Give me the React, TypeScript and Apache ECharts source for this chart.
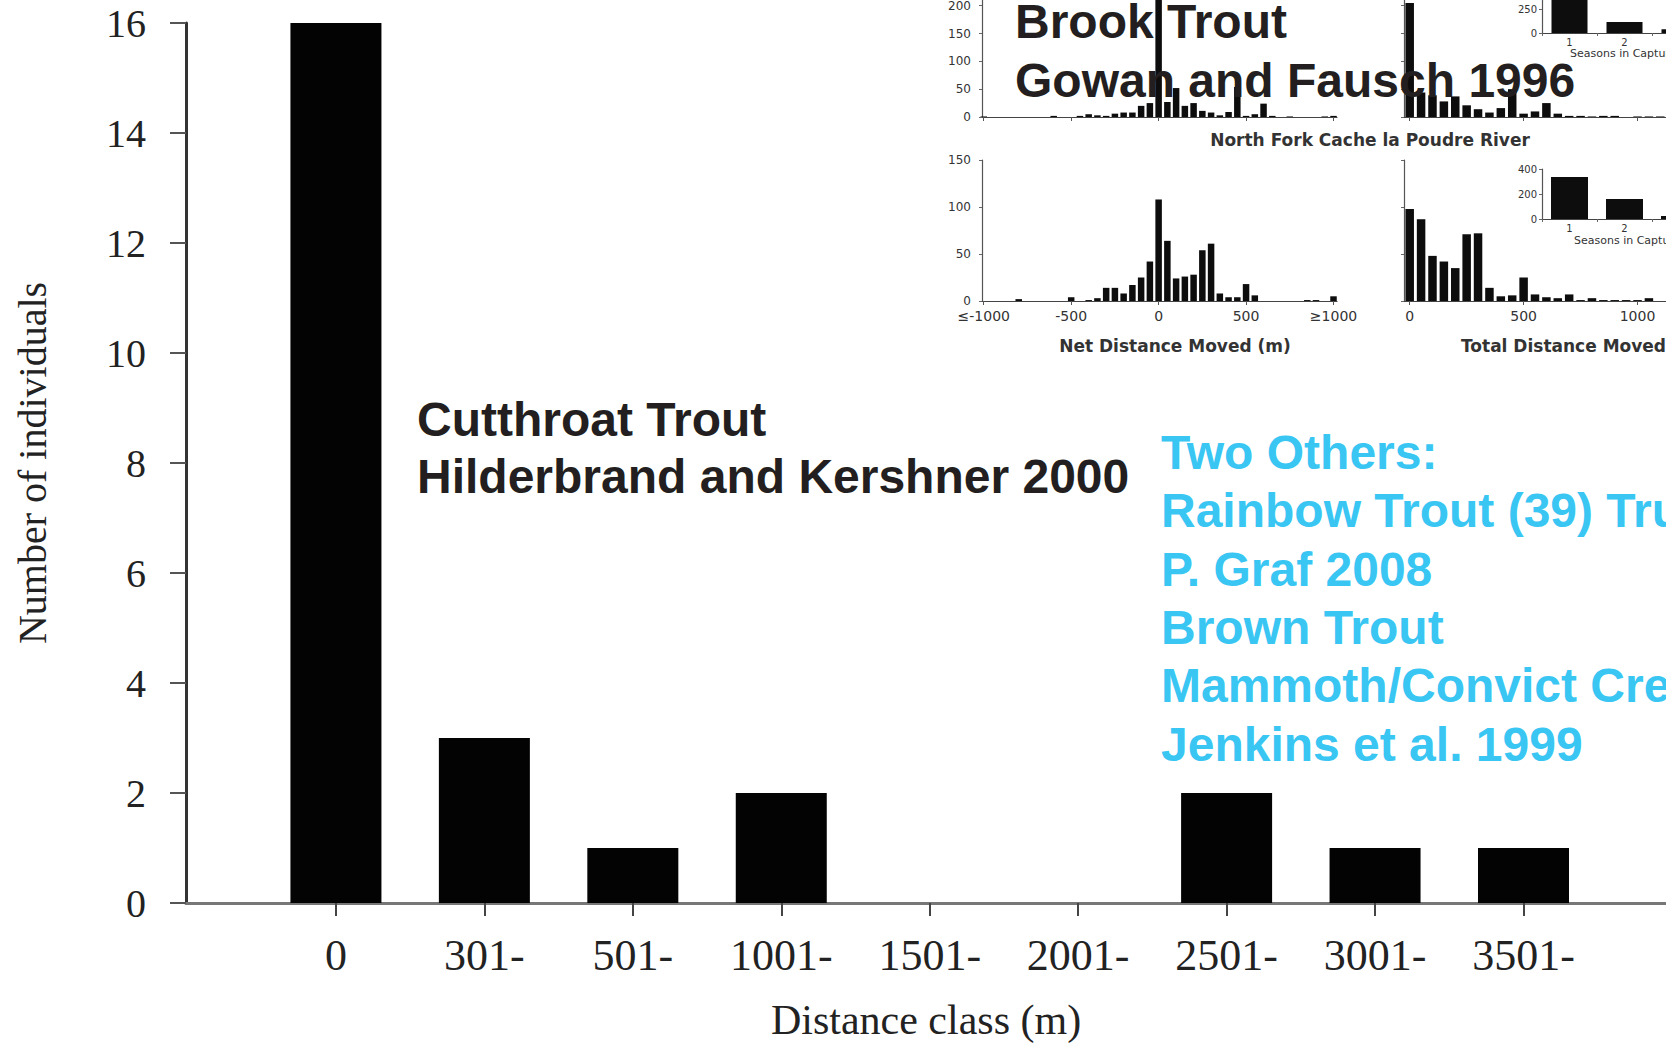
import React, { useEffect, useRef } from "react";
import * as echarts from "echarts";

// ---------- main chart data ----------
const distanceClasses = ["0", "301-", "501-", "1001-", "1501-", "2001-", "2501-", "3001-", "3501-"];
const individualCounts = [16, 3, 1, 2, 0, 0, 2, 1, 1];

// ---------- Brook trout inset data (Gowan & Fausch 1996) ----------
const netBinsUpper = [-1000, -600, -450, -400, -350, -300, -250, -200, -150, -100, -50, 0, 50, 100, 150, 200, 250, 300, 350, 400, 450, 500, 550, 600, 650, 750, 950, 1000];
const netFishUpper = [1, 2, 2, 5, 3, 2, 6, 8, 8, 20, 25, 300, 27, 52, 20, 25, 11, 8, 3, 9, 54, 2, 5, 24, 2, 1, 1, 2];

const netBinsLower = [-800, -500, -400, -350, -300, -250, -200, -150, -100, -50, 0, 50, 100, 150, 200, 250, 300, 350, 400, 450, 500, 550, 850, 900, 1000];
const netFishLower = [2, 4, 1, 3, 14, 14, 8, 17, 25, 42, 108, 64, 24, 26, 28, 54, 61, 8, 4, 4, 18, 6, 1, 1, 5];

const totalBinsUpper = [0, 50, 100, 150, 200, 250, 300, 350, 400, 450, 500, 550, 600, 650, 700, 750, 800, 850, 900, 1000, 1050, 1100];
const totalFishUpper = [205, 44, 39, 28, 37, 21, 14, 8, 16, 50, 6, 10, 25, 6, 2, 2, 1, 2, 2, 1, 1, 1];

const totalBinsLower = [0, 50, 100, 150, 200, 250, 300, 350, 400, 450, 500, 550, 600, 650, 700, 750, 800, 850, 900, 950, 1000, 1050];
const totalFishLower = [98, 87, 48, 42, 35, 71, 72, 14, 5, 6, 25, 7, 4, 3, 7, 1, 3, 1, 1, 1, 1, 3];

const seasonCategories = ["1", "2", "3"];
const seasonFishUpper = [400, 115, 40];
const seasonFishLower = [336, 160, 24];

const netTickValues = [-1000, -500, 0, 500, 1000];
const totalTickValues = [0, 500, 1000];

// ---------- overlay texts ----------
const brookLines = ["Brook Trout", "Gowan and Fausch 1996"];
const cutthroatLines = ["Cutthroat Trout", "Hilderbrand and Kershner 2000"];
const otherLines = [
  "Two Others:",
  "Rainbow Trout (39) Tru",
  "P. Graf 2008",
  "Brown Trout",
  "Mammoth/Convict Cre",
  "Jenkins et al. 1999",
];

const SERIF = '"Liberation Serif", "Times New Roman", serif';
const SANS = '"Liberation Sans", Arial, sans-serif';
const INSET = '"DejaVu Sans", sans-serif';

function netLabel(v: number) {
  if (v <= -1000) return "≤-1000";
  if (v >= 1000) return "≥1000";
  return String(v);
}

function insetX(gridIndex: number, min: number, max: number, ticks: number[], showLabels: boolean, fmt?: (v: number) => string) {
  return {
    type: "value",
    gridIndex,
    min,
    max,
    splitLine: { show: false },
    axisLine: { show: true, onZero: false, lineStyle: { color: "#444", width: 1.2 } },
    axisTick: { show: true, customValues: ticks, length: 4, lineStyle: { color: "#555", width: 1 } },
    axisLabel: {
      show: showLabels,
      customValues: ticks,
      formatter: fmt || ((v: number) => String(v)),
      fontFamily: INSET,
      fontSize: 14,
      color: "#333",
      margin: 8,
    },
  };
}

function insetY(gridIndex: number, max: number, interval: number, showLabels: boolean, fontSize: number, maxShown: number) {
  return {
    type: "value",
    gridIndex,
    min: 0,
    max,
    interval,
    splitLine: { show: false },
    axisLine: { show: true, onZero: false, lineStyle: { color: "#555", width: 1.2 } },
    axisTick: { show: true, length: 3, lineStyle: { color: "#666", width: 1 } },
    axisLabel: {
      show: showLabels,
      formatter: (v: number) => (v > maxShown ? "" : String(v)),
      fontFamily: INSET,
      fontSize,
      color: "#333",
      margin: fontSize < 11 ? 5 : 11,
    },
  };
}

function insetBars(xi: number, bins: number[], vals: number[], width: number) {
  return {
    type: "bar",
    xAxisIndex: xi,
    yAxisIndex: xi,
    data: bins.map((b, i) => [b, vals[i]]),
    barWidth: width,
    clip: false,
    itemStyle: { color: "#0d0d0d" },
  };
}

function textLines(lines: string[], x: number, y0: number, step: number, size: number, color: string) {
  return lines.map((t, i) => ({
    type: "text",
    x,
    y: y0 + i * step,
    z: 100,
    style: {
      text: t,
      fill: color,
      font: `bold ${size}px ${SANS}`,
      align: "left",
      verticalAlign: "middle",
      textAlign: "left",
      textVerticalAlign: "middle",
    },
  }));
}

function smallText(t: string, x: number, y: number, size: number, align: string, bold: boolean) {
  return {
    type: "text",
    x,
    y,
    z: 50,
    style: {
      text: t,
      fill: "#333",
      font: `${bold ? "bold " : ""}${size}px ${INSET}`,
      align,
      verticalAlign: "middle",
      textAlign: align,
      textVerticalAlign: "middle",
    },
  };
}

function seasonX(gridIndex: number) {
  return {
    type: "category",
    gridIndex,
    data: seasonCategories,
    axisLine: { show: true, onZero: false, lineStyle: { color: "#444", width: 1.2 } },
    axisTick: { show: true, length: 3, alignWithLabel: false, lineStyle: { color: "#666" } },
    axisLabel: { fontFamily: INSET, fontSize: 10, color: "#333", margin: 4 },
  };
}

const grids = [
  { left: 186, top: 23, width: 1480, height: 880 }, // main
  { left: 982, top: -50, width: 355, height: 167 }, // net upper
  { left: 982, top: 160, width: 355, height: 141 }, // net lower
  { left: 1404, top: -50, width: 262, height: 167 }, // total upper
  { left: 1404, top: 160, width: 262, height: 141 }, // total lower
  { left: 1542, top: -15, width: 165, height: 48 }, // seasons upper
  { left: 1542, top: 169, width: 165, height: 50 }, // seasons lower
].map((g) => ({ ...g, containLabel: false, outerBoundsMode: "none" }));

const option: any = {
  animation: false,
  backgroundColor: "#ffffff",
  grid: grids,
  xAxis: [
    {
      type: "value",
      gridIndex: 0,
      min: -1.01,
      max: 8.96,
      splitLine: { show: false },
      axisLine: { show: true, onZero: false, lineStyle: { color: "#777", width: 3 } },
      axisTick: {
        show: true,
        customValues: distanceClasses.map((_, i) => i),
        length: 13,
        lineStyle: { color: "#444", width: 2 },
      },
      axisLabel: {
        customValues: distanceClasses.map((_, i) => i),
        formatter: (v: number) => distanceClasses[Math.round(v)] ?? "",
        fontFamily: SERIF,
        fontSize: 44,
        color: "#222",
        margin: 30,
      },
      name: "Distance class (m)",
      nameLocation: "middle",
      nameGap: 96,
      nameTextStyle: { fontFamily: SERIF, fontSize: 42, color: "#222" },
    },
    insetX(1, -1010, 1020, netTickValues, false),
    insetX(2, -1010, 1020, netTickValues, true, netLabel),
    insetX(3, -25, 1125, totalTickValues, false),
    insetX(4, -25, 1125, totalTickValues, true),
    seasonX(5),
    seasonX(6),
  ],
  yAxis: [
    {
      type: "value",
      gridIndex: 0,
      min: 0,
      max: 16,
      interval: 2,
      splitLine: { show: false },
      axisLine: { show: true, onZero: false, lineStyle: { color: "#333", width: 3 } },
      axisTick: { show: true, length: 16, lineStyle: { color: "#555", width: 2 } },
      axisLabel: { fontFamily: SERIF, fontSize: 40, color: "#222", margin: 40 },
      name: "Number of individuals",
      nameLocation: "middle",
      nameGap: 134,
      nameTextStyle: { fontFamily: SERIF, fontSize: 40, color: "#222" },
    },
    insetY(1, 300, 50, true, 12, 200),
    insetY(2, 150, 50, true, 12, 150),
    insetY(3, 300, 50, false, 12, 200),
    insetY(4, 150, 50, false, 12, 150),
    insetY(5, 500, 250, true, 10, 250),
    insetY(6, 400, 200, true, 10, 400),
  ],
  series: [
    {
      type: "bar",
      xAxisIndex: 0,
      yAxisIndex: 0,
      data: individualCounts.map((v, i) => [i, v]),
      barWidth: 91,
      clip: false,
      itemStyle: { color: "#030303" },
    },
    insetBars(1, netBinsUpper, netFishUpper, 6.5),
    insetBars(2, netBinsLower, netFishLower, 6.5),
    insetBars(3, totalBinsUpper, totalFishUpper, 8.5),
    insetBars(4, totalBinsLower, totalFishLower, 8.5),
    {
      type: "bar",
      xAxisIndex: 5,
      yAxisIndex: 5,
      data: seasonFishUpper,
      barWidth: 36,
      itemStyle: { color: "#0d0d0d" },
    },
    {
      type: "bar",
      xAxisIndex: 6,
      yAxisIndex: 6,
      data: seasonFishLower,
      barWidth: 37,
      itemStyle: { color: "#0d0d0d" },
    },
  ],
  graphic: [
    smallText("North Fork Cache la Poudre River", 1370, 140, 17, "center", true),
    smallText("Net Distance Moved (m)", 1175, 346, 17, "center", true),
    smallText("Total Distance Moved (m)", 1461, 346, 17, "left", true),
    smallText("Seasons in Capture", 1570, 53, 11, "left", false),
    smallText("Seasons in Capture", 1574, 240, 11, "left", false),
    ...textLines(brookLines, 1015, 21, 59, 48, "#231f20"),
    ...textLines(cutthroatLines, 417, 419, 57, 48, "#231f20"),
    ...textLines(otherLines, 1161, 452.5, 58.3, 48, "#39c6f3"),
  ],
};

export default function App() {
  const ref = useRef<HTMLDivElement>(null);
  useEffect(() => {
    if (!ref.current) return;
    const chart = echarts.init(ref.current, null, { renderer: "svg" });
    chart.setOption(option);
    return () => chart.dispose();
  }, []);
  return (
    <div
      ref={ref}
      style={{ position: "fixed", left: 0, top: 0, width: 1666, height: 1044, background: "#fff" }}
    />
  );
}
